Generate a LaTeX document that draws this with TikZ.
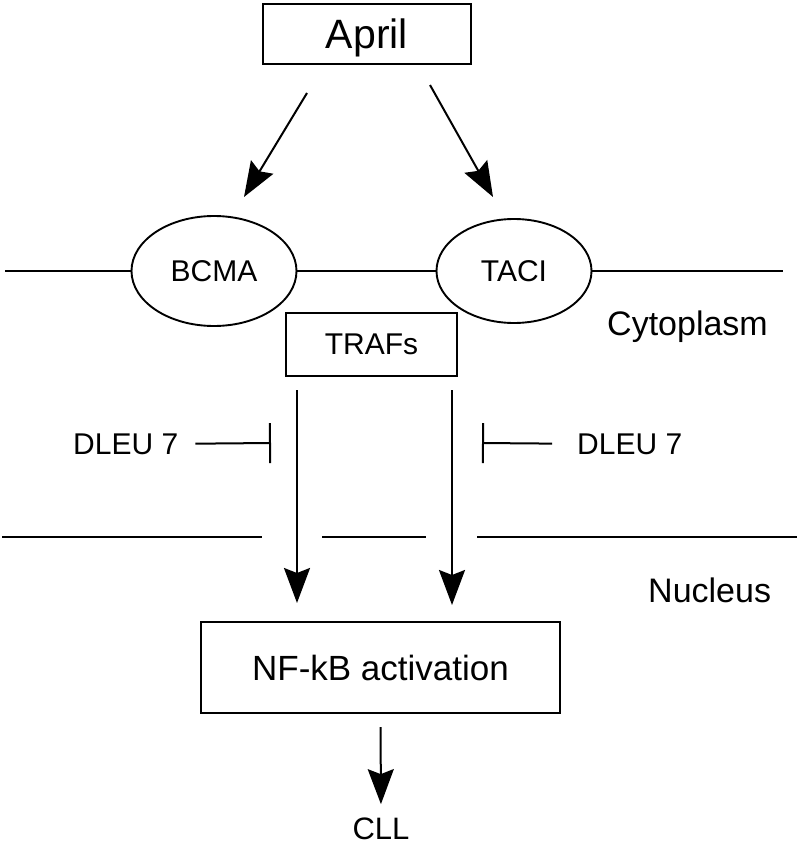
\documentclass[tikz,border=0pt]{standalone}
\usepackage{fontspec}
\setmainfont{Liberation Sans}
\usetikzlibrary{positioning, shapes.geometric, arrows.meta}

\tikzset{
  box/.style={draw, line width=2.2pt, inner sep=0pt},
  receptor/.style={draw, ellipse, line width=1.9pt, inner sep=0pt, font=\fontsize{30}{30}\selectfont},
  membrane/.style={line width=2.2pt},
  signal/.style={-{Stealth[length=35pt, width=26pt, inset=5pt]}, line width=2pt},
  block/.style={-{Bar[width=40pt]}, line width=2pt},
  lbl/.style={inner sep=0pt, font=\fontsize{30}{30}\selectfont},
}

\begin{document}
\begin{tikzpicture}[x=1pt, y=-1pt]
            \useasboundingbox (0,0) rectangle (799,845);

            \node [box, minimum width=208pt, minimum height=60pt, text depth=0pt, font=\fontsize{41}{41}\selectfont] (april) at (367,34) {April};
            \node [receptor, minimum width=165pt, minimum height=110pt] (bcma) at (214,271) {BCMA};
            \node [receptor, minimum width=155pt, minimum height=104pt] (taci) at (514,271) {TACI};
            \node [box, minimum width=171pt, minimum height=63pt, font=\fontsize{30}{30}\selectfont] (trafs) at (371.5,344.5) {TRAFs};
            \node [box, minimum width=359pt, minimum height=91pt, font=\fontsize{35}{35}\selectfont] (nfkb) at (380.5,667.5) {NF-kB activation};
            \node [lbl, anchor=base, font=\fontsize{31}{31}\selectfont] (cll) at (381,839) {CLL};

            \node [lbl, anchor=base west, font=\fontsize{34}{34}\selectfont] (cyto) at (607,335) {Cytoplasm};
            \node [lbl, anchor=base west, font=\fontsize{34}{34}\selectfont] (nucleus) at (648,602) {Nucleus};
            \node [lbl, anchor=base west] (dleuL) at (73,454) {DLEU 7};
            \node [lbl, anchor=base west] (dleuR) at (577,454) {DLEU 7};

            \coordinate (a1) at (307,93);
            \coordinate (a2) at (244,197);
            \coordinate (b1) at (430,85);
            \coordinate (b2) at (493,197);
            \coordinate (s1) at (297,390);
            \coordinate (e1) at (297,603);
            \coordinate (s2) at (452,390);
            \coordinate (e2) at (452,605);
            \coordinate (barL) at (271,443);
            \coordinate (barR) at (482,443);

            % plasma membrane
            \draw [membrane] (5,271) -- (bcma.west);
            \draw [membrane] (bcma.east) -- (taci.west);
            \draw [membrane] (taci.east) -- (783,271);

            % nuclear membrane
            \draw [membrane] (2,537) -- (262,537);
            \draw [membrane] (322,537) -- (426,537);
            \draw [membrane] (477,537) -- (797,537);

            \draw [signal] (a1) -- (a2);
            \draw [signal] (b1) -- (b2);
            \draw [signal] (s1) -- (e1);
            \draw [signal] (s2) -- (e2);
            \draw [signal, shorten <=13pt, shorten >=13pt] (nfkb.south) -- (cll.north);

            \draw [block, shorten <=17pt] (dleuL.east) -- (barL);
            \draw [block, shorten <=25pt] (dleuR.west) -- (barR);
        \end{tikzpicture}
\end{document}
